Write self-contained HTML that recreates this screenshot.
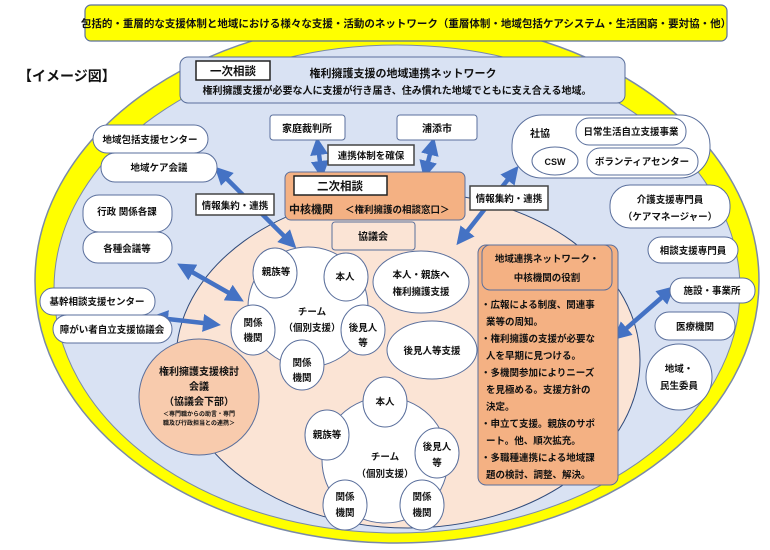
<!DOCTYPE html>
<html><head><meta charset="utf-8"><style>
body{margin:0;background:#fff}
svg text{font-family:"Liberation Sans","Noto Sans CJK JP",sans-serif;font-weight:bold;fill:#111}
</style></head><body>
<svg width="770" height="545" viewBox="0 0 770 545" xmlns="http://www.w3.org/2000/svg">
<defs>
<marker id="ah" markerWidth="4" markerHeight="4" refX="2" refY="2" orient="auto-start-reverse" markerUnits="strokeWidth"><path d="M0,0 L4,2 L0,4 Z" fill="#4472C4"/></marker>
</defs>
<ellipse cx="397" cy="281" rx="362" ry="262" fill="#FFFF00" stroke="#7a8aa8" stroke-width="1.5"/>
<ellipse cx="397" cy="289" rx="343" ry="244" fill="#D9E2F3" stroke="#7a8aa8" stroke-width="1"/>
<ellipse cx="408" cy="360" rx="232" ry="168" fill="#FBE4D5" stroke="#2F4A7A" stroke-width="1"/>

<rect x="85" y="5" width="642" height="36" rx="6" fill="#FFFF00" stroke="#5a6f9c" stroke-width="1.2"/>
<text x="406" y="27" font-size="10.5" text-anchor="middle">包括的・重層的な支援体制と地域における様々な支援・活動のネットワーク（重層体制・地域包括ケアシステム・生活困窮・要対協・他）</text>
<text x="18" y="81" font-size="14">【イメージ図】</text>

<rect x="180" y="57" width="445" height="46" rx="8" fill="#D9E2F3" stroke="#5a6f9c"/>
<rect x="196" y="61" width="74" height="19" fill="#fff" stroke="#222" stroke-width="1.5"/>
<text x="233" y="75" font-size="11.5" text-anchor="middle">一次相談</text>
<text x="403" y="77" font-size="11" text-anchor="middle">権利擁護支援の地域連携ネットワーク</text>
<text x="397" y="94" font-size="10" text-anchor="middle">権利擁護支援が必要な人に支援が行き届き、住み慣れた地域でともに支え合える地域。</text>

<g stroke="#4472C4" stroke-width="4.5" fill="none" marker-start="url(#ah)" marker-end="url(#ah)">
<line x1="318" y1="146" x2="321" y2="170"/>
<line x1="432" y1="146" x2="426" y2="170"/>
<line x1="221" y1="173" x2="290" y2="242"/>
<line x1="185" y1="268" x2="236" y2="297"/>
<line x1="159" y1="318" x2="212" y2="324"/>
<line x1="513" y1="173" x2="462" y2="238"/>
<line x1="668" y1="292" x2="620" y2="334"/>
</g>

<rect x="270" y="115" width="75" height="25" rx="3" fill="#fff" stroke="#5a6f9c"/>
<text x="307" y="132" font-size="10" text-anchor="middle">家庭裁判所</text>
<rect x="397" y="115" width="80" height="25" rx="3" fill="#fff" stroke="#5a6f9c"/>
<text x="437" y="132" font-size="10" text-anchor="middle">浦添市</text>
<rect x="328" y="145" width="86" height="20" fill="#fff" stroke="#444" stroke-width="1.5"/>
<text x="371" y="159" font-size="9.5" text-anchor="middle">連携体制を確保</text>

<rect x="285" y="172" width="180" height="48" rx="6" fill="#F4B183" stroke="#5a6f9c"/>
<rect x="294" y="176" width="93" height="19" fill="#fff" stroke="#222" stroke-width="1.5"/>
<text x="340" y="190" font-size="11.5" text-anchor="middle">二次相談</text>
<text x="289" y="213" font-size="11">中核機関</text>
<text x="345" y="213" font-size="9.5">＜権利擁護の相談窓口＞</text>
<rect x="332" y="222" width="83" height="28" rx="3" fill="#FBE4D5" stroke="#5a6f9c"/>
<text x="373" y="240" font-size="10" text-anchor="middle">協議会</text>

<rect x="512" y="115" width="198" height="63" rx="30" fill="#fff" stroke="#5a6f9c"/>
<text x="530" y="137" font-size="10">社協</text>
<rect x="576" y="118" width="110" height="27" rx="13" fill="#fff" stroke="#5a6f9c"/>
<text x="631" y="135" font-size="9.5" text-anchor="middle">日常生活自立支援事業</text>
<ellipse cx="555" cy="161" rx="23" ry="14" fill="#fff" stroke="#5a6f9c"/>
<text x="555" y="165" font-size="9" text-anchor="middle">CSW</text>
<rect x="587" y="148" width="111" height="27" rx="13" fill="#fff" stroke="#5a6f9c"/>
<text x="642" y="165" font-size="9.5" text-anchor="middle">ボランティアセンター</text>

<rect x="93" y="125" width="115" height="28" rx="14" fill="#fff" stroke="#5a6f9c"/>
<text x="150" y="143" font-size="9.5" text-anchor="middle">地域包括支援センター</text>
<rect x="101" y="153" width="116" height="29" rx="14" fill="#fff" stroke="#5a6f9c"/>
<text x="159" y="171" font-size="9.5" text-anchor="middle">地域ケア会議</text>
<rect x="83" y="195" width="89" height="37" rx="16" fill="#fff" stroke="#5a6f9c"/>
<text x="127" y="215" font-size="9.5" text-anchor="middle">行政 関係各課</text>
<rect x="83" y="232" width="89" height="31" rx="15" fill="#fff" stroke="#5a6f9c"/>
<text x="127" y="252" font-size="9.5" text-anchor="middle">各種会議等</text>
<rect x="40" y="288" width="115" height="27" rx="13" fill="#fff" stroke="#5a6f9c"/>
<text x="97" y="305" font-size="9.5" text-anchor="middle">基幹相談支援センター</text>
<rect x="53" y="315" width="119" height="28" rx="14" fill="#fff" stroke="#5a6f9c"/>
<text x="112" y="333" font-size="9.5" text-anchor="middle">障がい者自立支援協議会</text>

<rect x="196" y="194" width="78" height="21" fill="#fff" stroke="#444" stroke-width="1.5"/>
<text x="235" y="209" font-size="9.5" text-anchor="middle">情報集約・連携</text>
<rect x="470" y="186" width="78" height="24" fill="#fff" stroke="#444" stroke-width="1.5"/>
<text x="509" y="202" font-size="9.5" text-anchor="middle">情報集約・連携</text>

<rect x="610" y="185" width="120" height="43" rx="20" fill="#fff" stroke="#5a6f9c"/>
<text x="670" y="203" font-size="9.5" text-anchor="middle">介護支援専門員</text>
<text x="670" y="220" font-size="9.5" text-anchor="middle">（ケアマネージャー）</text>
<rect x="648" y="237" width="90" height="26" rx="13" fill="#fff" stroke="#5a6f9c"/>
<text x="693" y="254" font-size="9.5" text-anchor="middle">相談支援専門員</text>
<rect x="670" y="278" width="85" height="25" rx="12" fill="#fff" stroke="#5a6f9c"/>
<text x="712" y="294" font-size="9.5" text-anchor="middle">施設・事業所</text>
<rect x="655" y="312" width="80" height="28" rx="14" fill="#fff" stroke="#5a6f9c"/>
<text x="695" y="330" font-size="9.5" text-anchor="middle">医療機関</text>
<ellipse cx="679" cy="377" rx="33" ry="33" fill="#fff" stroke="#5a6f9c"/>
<text x="679" y="372" font-size="9.5" text-anchor="middle">地域・</text>
<text x="679" y="389" font-size="9.5" text-anchor="middle">民生委員</text>

<ellipse cx="199" cy="397" rx="60" ry="58" fill="#F8CBAD" stroke="#5a6f9c"/>
<text x="199" y="375" font-size="10" text-anchor="middle">権利擁護支援検討</text>
<text x="199" y="390" font-size="10" text-anchor="middle">会議</text>
<text x="199" y="405" font-size="10" text-anchor="middle">（協議会下部）</text>
<text x="199" y="416" font-size="6" text-anchor="middle">＜専門職からの助言・専門</text>
<text x="199" y="425" font-size="6" text-anchor="middle">職及び行政担当との連携＞</text>

<circle cx="308" cy="307" r="60" fill="#fff" stroke="#5a6f9c"/>
<text x="312" y="315" font-size="9.5" text-anchor="middle">チーム</text>
<text x="312" y="331" font-size="9.5" text-anchor="middle">（個別支援）</text>
<g fill="#fff" stroke="#5a6f9c">
<ellipse cx="275" cy="273" rx="22" ry="25"/>
<ellipse cx="346" cy="277" rx="22" ry="24"/>
<ellipse cx="253" cy="330" rx="22" ry="25"/>
<ellipse cx="363" cy="330" rx="22" ry="25"/>
<ellipse cx="302" cy="365" rx="22" ry="25"/>
</g>
<text x="276" y="275" font-size="9.5" text-anchor="middle">親族等</text>
<text x="345" y="280" font-size="9.5" text-anchor="middle">本人</text>
<text x="253" y="326" font-size="9.5" text-anchor="middle">関係</text>
<text x="253" y="341" font-size="9.5" text-anchor="middle">機関</text>
<text x="363" y="331" font-size="9.5" text-anchor="middle">後見人</text>
<text x="363" y="346" font-size="9.5" text-anchor="middle">等</text>
<text x="302" y="366" font-size="9.5" text-anchor="middle">関係</text>
<text x="302" y="381" font-size="9.5" text-anchor="middle">機関</text>

<ellipse cx="421" cy="282" rx="48" ry="31" fill="#fff" stroke="#5a6f9c"/>
<text x="421" y="278" font-size="9.5" text-anchor="middle">本人・親族へ</text>
<text x="421" y="295" font-size="9.5" text-anchor="middle">権利擁護支援</text>
<ellipse cx="432" cy="350" rx="45" ry="29" fill="#fff" stroke="#5a6f9c"/>
<text x="432" y="354" font-size="9.5" text-anchor="middle">後見人等支援</text>

<circle cx="385" cy="460" r="63" fill="#fff" stroke="#5a6f9c"/>
<text x="385" y="460" font-size="9.5" text-anchor="middle">チーム</text>
<text x="385" y="477" font-size="9.5" text-anchor="middle">（個別支援）</text>
<g fill="#fff" stroke="#5a6f9c">
<ellipse cx="385" cy="402" rx="22" ry="25"/>
<ellipse cx="327" cy="435" rx="22" ry="25"/>
<ellipse cx="437" cy="453" rx="22" ry="25"/>
<ellipse cx="345" cy="505" rx="22" ry="25"/>
<ellipse cx="422" cy="505" rx="22" ry="25"/>
</g>
<text x="385" y="405" font-size="9.5" text-anchor="middle">本人</text>
<text x="327" y="438" font-size="9.5" text-anchor="middle">親族等</text>
<text x="437" y="450" font-size="9.5" text-anchor="middle">後見人</text>
<text x="437" y="466" font-size="9.5" text-anchor="middle">等</text>
<text x="345" y="500" font-size="9.5" text-anchor="middle">関係</text>
<text x="345" y="516" font-size="9.5" text-anchor="middle">機関</text>
<text x="422" y="500" font-size="9.5" text-anchor="middle">関係</text>
<text x="422" y="516" font-size="9.5" text-anchor="middle">機関</text>

<rect x="478" y="245" width="140" height="240" rx="8" fill="#F4B183" stroke="#5a6f9c"/>
<rect x="482" y="245" width="130" height="45" rx="8" fill="#F4B183" stroke="#5a6f9c"/>
<text x="547" y="262" font-size="9.5" text-anchor="middle">地域連携ネットワーク・</text>
<text x="547" y="281" font-size="9.5" text-anchor="middle">中核機関の役割</text>
<g font-size="9.5">
<text x="481" y="308">・広報による制度、関連事</text>
<text x="486" y="325">業等の周知。</text>
<text x="481" y="342">・権利擁護の支援が必要な</text>
<text x="486" y="359">人を早期に見つける。</text>
<text x="481" y="376">・多機関参加によりニーズ</text>
<text x="486" y="393">を見極める。支援方針の</text>
<text x="486" y="410">決定。</text>
<text x="481" y="427">・申立て支援。親族のサポ</text>
<text x="486" y="444">ート。他、順次拡充。</text>
<text x="481" y="461">・多職種連携による地域課</text>
<text x="486" y="478">題の検討、調整、解決。</text>
</g>
</svg>
</body></html>
